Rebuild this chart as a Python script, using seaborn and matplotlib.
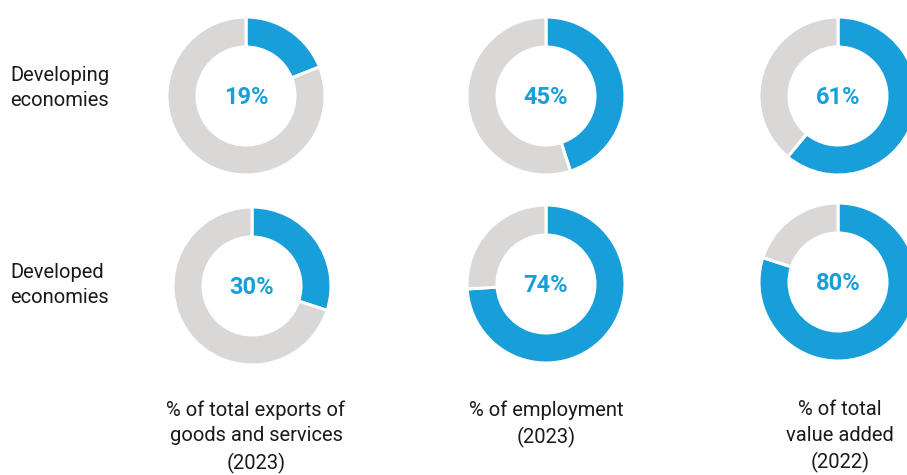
import matplotlib
matplotlib.use("Agg")
import matplotlib.pyplot as plt
import seaborn as sns

sns.set_theme(style="white")
plt.rcParams["font.family"] = ["Roboto", "DejaVu Sans"]

# --------------------------
# Data
# --------------------------
row_labels = ["Developing\neconomies", "Developed\neconomies"]
col_labels = ["% of total exports of\ngoods and services\n(2023)",
              "% of employment\n(2023)",
              "% of total\nvalue added\n(2022)"]
developing = [19, 45, 61]
developed = [30, 74, 80]
values = [developing, developed]

blue = "#189fd9"
grey = "#d9d8d7"

W, H = 907, 475
fig = plt.figure(figsize=(W / 100, H / 100), dpi=100)

# donut centres in pixels (x, y from top)
centres = [[(246, 96), (546, 96), (838, 96)],
           [(252, 286), (546, 284), (838, 282)]]
R = 79

for r in range(2):
    for c in range(3):
        cx, cy = centres[r][c]
        ax = fig.add_axes([(cx - R) / W, 1 - (cy + R) / H, 2 * R / W, 2 * R / H])
        v = values[r][c]
        ax.pie([v, 100 - v], colors=[blue, grey], startangle=90, counterclock=False,
               radius=1, wedgeprops=dict(width=0.38, edgecolor="white", linewidth=2.2))
        ax.set_xlim(-1.0, 1.0)
        ax.set_ylim(-1.0, 1.0)
        ax.set_aspect("equal")
        ax.text(0, -0.02, f"{v}%", ha="center", va="center", color=blue,
                fontsize=17, fontweight="bold")

for r, lab in enumerate(row_labels):
    y = [88, 285][r]
    fig.text(10 / W, 1 - y / H, lab, ha="left", va="center", fontsize=14.5,
             color="#1a1a1a", linespacing=1.45)

caption_x = [256, 546, 840]
for c, lab in enumerate(col_labels):
    fig.text(caption_x[c] / W, 1 - 400 / H, lab, ha="center", va="top", fontsize=14.5,
             color="#1a1a1a", linespacing=1.45)

fig.savefig("out.png", dpi=100, facecolor="white")
